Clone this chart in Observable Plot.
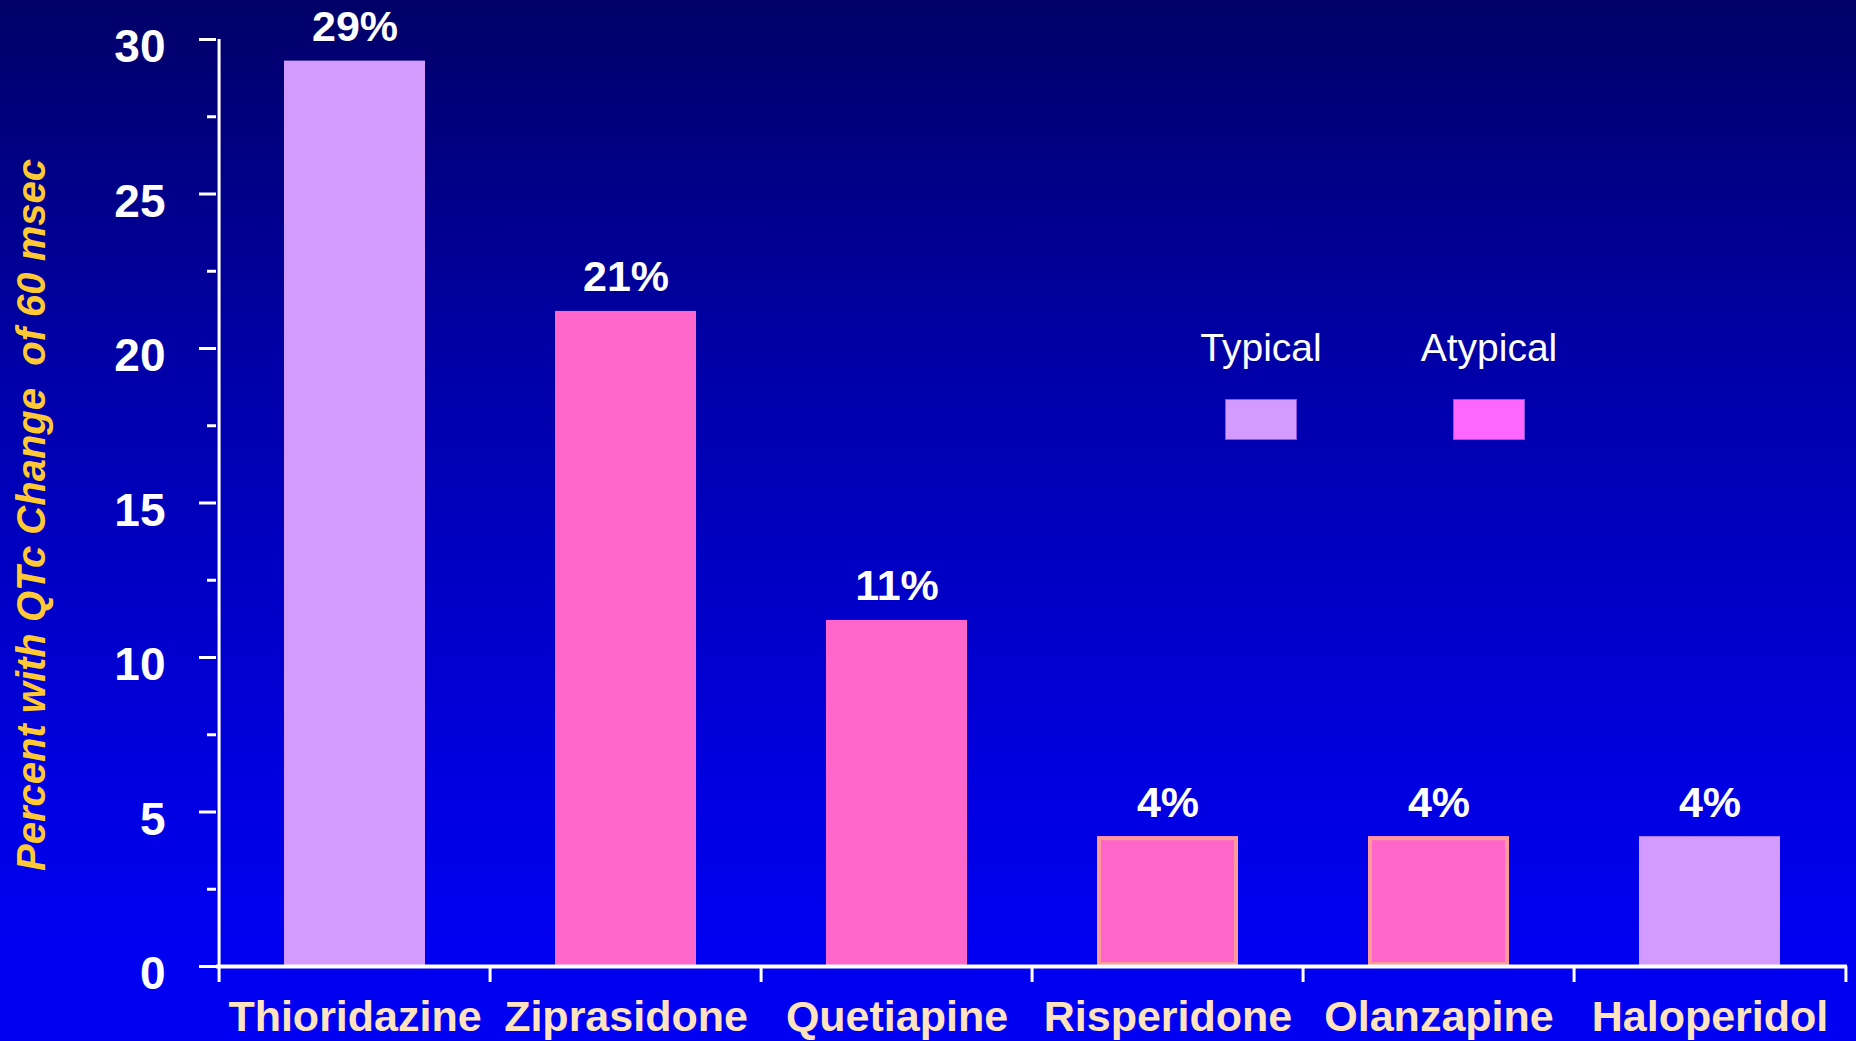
<!DOCTYPE html>
<html>
<head>
<meta charset="utf-8">
<script src="https://cdn.jsdelivr.net/npm/d3@7"></script>
<script src="https://cdn.jsdelivr.net/npm/@observablehq/plot@0.6"></script>
<style>
  html, body { margin: 0; padding: 0; }
  body {
    width: 1856px; height: 1041px; overflow: hidden; position: relative;
    background: linear-gradient(to bottom, #000068 0%, #0000A8 35%, #0000E0 75%, #0000F0 90%, #0000F2 100%);
    font-family: "Liberation Sans", Arial, sans-serif;
  }
  #chart { position: absolute; left: 0; top: 0; }
  svg text { white-space: pre; }
  .lg-text { position: absolute; width: 200px; text-align: center; color: #fff; font-size: 39px; line-height: 39px; }
  .lg-sw { position: absolute; width: 72px; height: 41px; box-sizing: border-box; border: 1px solid #8a55e0; }
  #ytitle {
    position: absolute; left: -369px; top: 495px; width: 800px; height: 40px;
    line-height: 40px; font-size: 40px; font-weight: bold; font-style: italic;
    color: #FFC933; text-align: center; white-space: pre; transform: rotate(-90deg);
  }
</style>
</head>
<body>
<div id="chart"></div>
<div id="legend"></div>
<div id="ytitle"></div>
<script>
// ---- data ----
const drugs = ["Thioridazine", "Ziprasidone", "Quetiapine", "Risperidone", "Olanzapine", "Haloperidol"];
const values = [29.3, 21.2, 11.2, 4.2, 4.2, 4.2];
const valueLabels = ["29%", "21%", "11%", "4%", "4%", "4%"];
const types = ["Typical", "Atypical", "Atypical", "Atypical", "Atypical", "Typical"];
const outlinedDrugs = ["Risperidone", "Olanzapine"];
const typeNames = ["Typical", "Atypical"];
const yTicks = [0, 5, 10, 15, 20, 25, 30];
const yMinorTicks = [2.5, 7.5, 12.5, 17.5, 22.5, 27.5];
const yTitle = "Percent with QTc Change  of 60 msec";

// ---- styling ----
const barColors = {Typical: "#D49BFF", Atypical: "#FF66CC"};
const legendColors = {Typical: "#D49BFF", Atypical: "#FF66FF"};

const data = drugs.map((d, i) => ({drug: d, value: values[i], label: valueLabels[i], type: types[i]}));

const W = 1856, H = 1041;
const mL = 216, mR = 9, mT = 39, mB = 75;
const bw = (W - mL - mR) / drugs.length;
const inset = 65;

const chart = Plot.plot({
  width: W, height: H,
  marginTop: mT, marginBottom: mB, marginLeft: mL, marginRight: mR,
  style: {background: "transparent", fontFamily: "'Liberation Sans', Arial, sans-serif", overflow: "visible"},
  x: {type: "band", domain: drugs, padding: 0},
  y: {domain: [0, 30]},
  color: {domain: typeNames, range: typeNames.map(t => barColors[t])},
  marks: [
    Plot.barY(data, {x: "drug", y: "value", fill: "type", insetLeft: inset, insetRight: inset}),
    Plot.barY(data.filter(d => outlinedDrugs.includes(d.drug)), {
      x: "drug", y: "value", fill: "none", stroke: "#FF9A9A", strokeWidth: 4,
      insetLeft: inset + 2, insetRight: inset + 2, insetTop: 2, insetBottom: 2
    }),
    Plot.text(data, {
      x: "drug", y: "value", text: "label", lineAnchor: "bottom", dy: -20,
      fill: "white", fontSize: 43, fontWeight: "bold"
    }),
    // y axis
    Plot.axisY({ticks: yMinorTicks, tickSize: 9, text: null, label: null, color: "white", strokeWidth: 3}),
    Plot.axisY({ticks: yTicks, tickSize: 17, text: null, label: null, color: "white", strokeWidth: 3}),
    Plot.axisY({ticks: yTicks, tickSize: 0, tickPadding: 51, label: null, color: "white",
      fontSize: 46, fontWeight: "bold", dy: 8}),
    Plot.ruleX([drugs[0]], {dx: -bw / 2, y1: 0, y2: 30, stroke: "white", strokeWidth: 3}),
    // x axis
    Plot.ruleY([0], {stroke: "white", strokeWidth: 4}),
    Plot.axisX({ticks: drugs, tickSize: 16, text: null, label: null, color: "white", strokeWidth: 3, dx: -bw / 2}),
    Plot.axisX({ticks: [drugs[drugs.length - 1]], tickSize: 16, text: null, label: null, color: "white", strokeWidth: 3, dx: bw / 2}),
    Plot.axisX({tickSize: 0, tickPadding: 34, label: null, color: "#FFE3BE", fontSize: 43, fontWeight: "bold"})
  ]
});
document.getElementById("chart").appendChild(chart);

// ---- y-axis title ----
document.getElementById("ytitle").textContent = yTitle;

// ---- legend ----
const legend = document.getElementById("legend");
const legendPos = {Typical: 1261, Atypical: 1489};
typeNames.forEach(t => {
  const tx = document.createElement("div");
  tx.className = "lg-text";
  tx.textContent = t;
  tx.style.left = (legendPos[t] - 100) + "px";
  tx.style.top = "328px";
  legend.appendChild(tx);
  const sw = document.createElement("div");
  sw.className = "lg-sw";
  sw.style.left = (legendPos[t] - 36) + "px";
  sw.style.top = "399px";
  sw.style.background = legendColors[t];
  legend.appendChild(sw);
});
</script>
</body>
</html>
